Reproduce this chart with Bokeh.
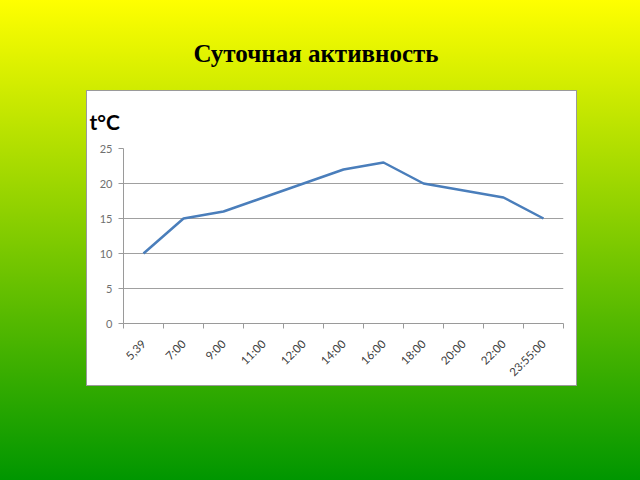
import math
from bokeh.plotting import figure
from bokeh.models import FixedTicker, Div, Column, Range1d
from bokeh.embed import file_html
from bokeh.resources import INLINE

times = ["5,39", "7:00", "9:00", "11:00", "12:00", "14:00", "16:00",
         "18:00", "20:00", "22:00", "23:55:00"]
temps = [10, 15, 16, 18, 20, 22, 23, 20, 19, 18, 15]
y_ticks = [0, 5, 10, 15, 20, 25]
unit_label = "t°C"

xs = [i + 0.5 for i in range(len(times))]

p = figure(width=491, height=296, output_backend="svg", toolbar_location=None,
           x_range=Range1d(0, len(times)), y_range=Range1d(0, 25),
           min_border_left=36, min_border_right=15, min_border_top=57,
           min_border_bottom=64, margin=(0, 0, 0, 86),
           styles={"border": "1px solid #9a9a9a", "box-sizing": "border-box",
                   "background-color": "white"})
p.background_fill_color = "white"
p.border_fill_color = "white"
p.outline_line_color = None

p.title.text = unit_label
p.title.text_font = "Lato"
p.title.text_font_size = "21px"
p.title.text_font_style = "bold"
p.title.text_color = "black"
p.title.align = "left"
p.title.offset = -34
p.title.standoff = 30

p.line(xs, temps, line_color="#4a7ebb", line_width=2.5)

# x axis
p.xaxis.ticker = FixedTicker(ticks=xs, minor_ticks=list(range(len(times) + 1)))
p.xaxis.major_label_overrides = {x: t for x, t in zip(xs, times)}
p.xaxis.major_label_orientation = math.pi / 4
p.xaxis.major_tick_out = 0
p.xaxis.major_tick_in = 0
p.xaxis.minor_tick_out = 5
p.xaxis.minor_tick_in = 0
p.xaxis.minor_tick_line_color = "#9a9a9a"
p.xaxis.axis_line_color = "#9a9a9a"
p.xaxis.major_label_text_font = "Lato"
p.xaxis.major_label_text_font_size = "11.5px"
p.xaxis.major_label_text_color = "#404040"
p.xaxis.major_label_standoff = 13

# y axis
p.yaxis.ticker = FixedTicker(ticks=y_ticks, minor_ticks=[])
p.yaxis.major_tick_out = 5
p.yaxis.major_tick_in = 0
p.yaxis.major_tick_line_color = "#9a9a9a"
p.yaxis.axis_line_color = "#9a9a9a"
p.yaxis.major_label_text_font = "Lato"
p.yaxis.major_label_text_font_size = "11px"
p.yaxis.major_label_text_color = "#707070"
p.yaxis.major_label_standoff = 6

p.xgrid.grid_line_color = None
p.ygrid.ticker = FixedTicker(ticks=y_ticks)
p.ygrid.grid_line_color = "#a0a0a0"
p.ygrid.grid_line_width = 1

title = Div(text="Суточная активность", width=632, height=90, margin=(0, 0, 0, 0),
            styles={"font-family": "'Liberation Serif', serif", "font-size": "25px",
                    "font-weight": "bold", "color": "black", "text-align": "center",
                    "padding-top": "36px", "box-sizing": "border-box", "width": "632px"})

layout = Column(children=[title, p], spacing=0)

html = file_html(layout, INLINE, title="Суточная активность")
html = html.replace("<head>", "<head><style>html{height:100%;background:linear-gradient(to bottom,#ffff00 0%,#009600 100%);}body{background:transparent;}</style>", 1)
open("out.html", "w").write(html)
